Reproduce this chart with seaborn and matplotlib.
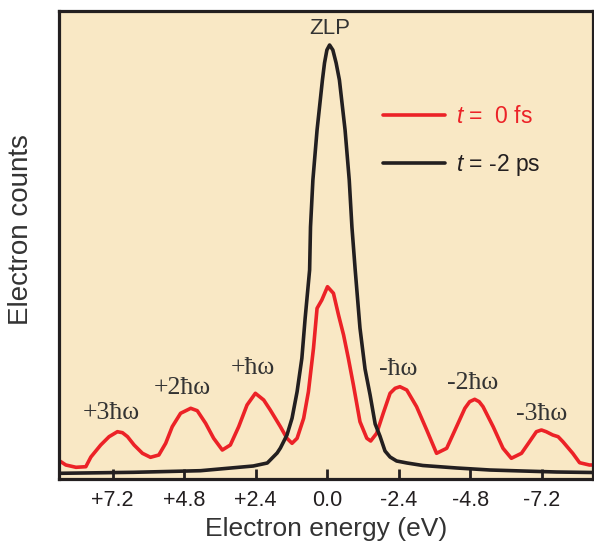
import numpy as np
import pandas as pd
import matplotlib
matplotlib.use("Agg")
import matplotlib.pyplot as plt
import seaborn as sns

# ---- data ----
red_energy = [8.99, 8.77, 8.43, 8.10, 7.93, 7.60, 7.32, 7.04, 6.87, 6.70, 6.48, 6.20,
              5.93, 5.65, 5.42, 5.20, 4.92, 4.58, 4.36, 4.08, 3.81, 3.52, 3.25, 2.97,
              2.69, 2.41, 2.13, 1.91, 1.57, 1.35, 1.18, 1.01, 0.79, 0.63, 0.46, 0.34,
              0.18, -0.01, -0.21, -0.38, -0.55, -0.71, -0.88, -1.10, -1.33, -1.46,
              -1.66, -1.88, -2.11, -2.28, -2.44, -2.67, -3.00, -3.34, -3.67, -4.01,
              -4.34, -4.62, -4.78, -4.95, -5.10, -5.23, -5.57, -5.90, -6.18, -6.52,
              -6.79, -7.02, -7.19, -7.35, -7.57, -7.75, -7.91, -8.24, -8.47, -8.80, -8.90]
red_counts = [18.3, 14.0, 11.7, 12.3, 22.0, 34.0, 42.3, 47.3, 46.3, 42.3, 34.0, 25.7,
              21.7, 24.0, 35.7, 52.3, 65.7, 70.7, 68.3, 55.7, 40.7, 29.0, 34.0, 52.3,
              74.0, 85.7, 79.0, 69.0, 52.3, 40.7, 35.7, 40.7, 60.7, 87.3, 130.7, 170.7,
              179.0, 192.3, 185.7, 164.0, 144.0, 120.7, 94.0, 57.3, 40.7, 38.0,
              45.7, 65.7, 85.7, 90.7, 92.3, 89.0, 72.3, 49.0, 25.7, 30.7,
              52.3, 70.7, 77.3, 79.7, 77.3, 72.3, 52.3, 30.7, 20.7, 25.7,
              37.3, 47.3, 49.0, 47.3, 44.0, 42.3, 37.3, 25.7, 16.3, 14.0, 14.0]

black_energy = [8.97, 6.49, 4.25, 2.48, 2.01, 1.68, 1.57, 1.35, 1.18, 1.01, 0.85, 0.74,
                0.59, 0.56, 0.48, 0.34, 0.16, 0.09, 0.01, -0.08, -0.19, -0.30, -0.41,
                -0.60, -0.74, -0.83, -0.94, -1.10, -1.27, -1.44, -1.61, -1.77, -1.94,
                -2.11, -2.33, -2.68, -3.21, -4.35, -5.46, -6.56, -7.70, -8.90]
black_counts = [5.7, 6.7, 8.3, 13.0, 16.0, 26.0, 31.0, 44.0, 60.7, 87.3, 120.7, 160.7,
                209.0, 252.0, 299.0, 349.0, 399.0, 416.0, 429.0, 434.0, 429.0, 416.0, 399.0,
                349.0, 299.0, 252.0, 209.0, 151.0, 110.0, 84.0, 55.0, 43.0, 28.0,
                22.0, 18.0, 16.0, 13.5, 11.0, 9.0, 8.0, 7.0, 6.5]

tick_values = [7.2, 4.8, 2.4, 0.0, -2.4, -4.8, -7.2]
tick_labels = ["+7.2", "+4.8", "+2.4", "0.0", "-2.4", "-4.8", "-7.2"]

sideband_labels = ["+3ħω", "+2ħω", "+ħω", "-ħω", "-2ħω", "-3ħω"]
sideband_x = [7.23, 4.85, 2.48, -2.38, -4.87, -7.20]
sideband_y = [66, 91, 111, 110, 96, 65]

series_labels = ["$t$ =  0 fs", "$t$ = -2 ps"]

# ---- style ----
RED = "#EC2227"
BLACK = "#231F20"
BEIGE = "#F9E8C5"

sns.set_style("ticks")
plt.rcParams["font.family"] = ["Liberation Sans", "DejaVu Sans"]
plt.rcParams["mathtext.fontset"] = "custom"
plt.rcParams["mathtext.it"] = "Liberation Sans:italic"
plt.rcParams["mathtext.rm"] = "Liberation Sans"

fig = plt.figure(figsize=(5.94, 5.47), dpi=100)
ax = fig.add_axes([59 / 594, (547 - 479) / 547, 534 / 594, 468 / 547])
ax.set_facecolor(BEIGE)

df_red = pd.DataFrame({"energy": red_energy, "counts": red_counts})
df_black = pd.DataFrame({"energy": black_energy, "counts": black_counts})

sns.lineplot(data=df_black, x="energy", y="counts", sort=False, color=BLACK,
             linewidth=2.6, ax=ax, label=series_labels[1], zorder=3)
sns.lineplot(data=df_red, x="energy", y="counts", sort=False, color=RED,
             linewidth=2.6, ax=ax, label=series_labels[0], zorder=2)
for ln in ax.get_lines():
    ln.set_solid_joinstyle("round")
    ln.set_solid_capstyle("round")

ax.set_xlim(9.0, -8.92)
ax.set_ylim(0, 468)

ax.set_xticks(tick_values)
ax.set_xticklabels(tick_labels, fontsize=15.5, color=BLACK)
ax.set_yticks([])
ax.tick_params(axis="x", direction="in", length=7, width=2, color=BLACK, pad=8)

for s in ax.spines.values():
    s.set_linewidth(2.3)
    s.set_color(BLACK)

ax.set_xlabel("Electron energy (eV)", fontsize=19, color="#333333", labelpad=4)
ax.set_ylabel("Electron counts", fontsize=20, color="#333333")
ax.yaxis.set_label_coords(-0.047, 0.532)

ax.text(-0.08, 440, "ZLP", fontsize=16, color="#333333", ha="center", va="bottom")

for lab, xx, yy in zip(sideband_labels, sideband_x, sideband_y):
    ax.text(xx, yy, lab, fontsize=18.5, color="#333333", ha="center", va="center",
            family=["Liberation Serif", "DejaVu Serif"])

handles, labels = ax.get_legend_handles_labels()
order = [1, 0]
leg = ax.legend([handles[i] for i in order], [labels[i] for i in order],
                loc="center left", bbox_to_anchor=(0.607, 0.722), frameon=False,
                fontsize=16.5, handlelength=2.7, handletextpad=0.5,
                labelspacing=1.05, borderpad=0, borderaxespad=0)
for txt, c in zip(leg.get_texts(), [RED, BLACK]):
    txt.set_color(c)
for h in leg.get_lines():
    h.set_linewidth(2.6)

fig.savefig("out.png", dpi=100)
